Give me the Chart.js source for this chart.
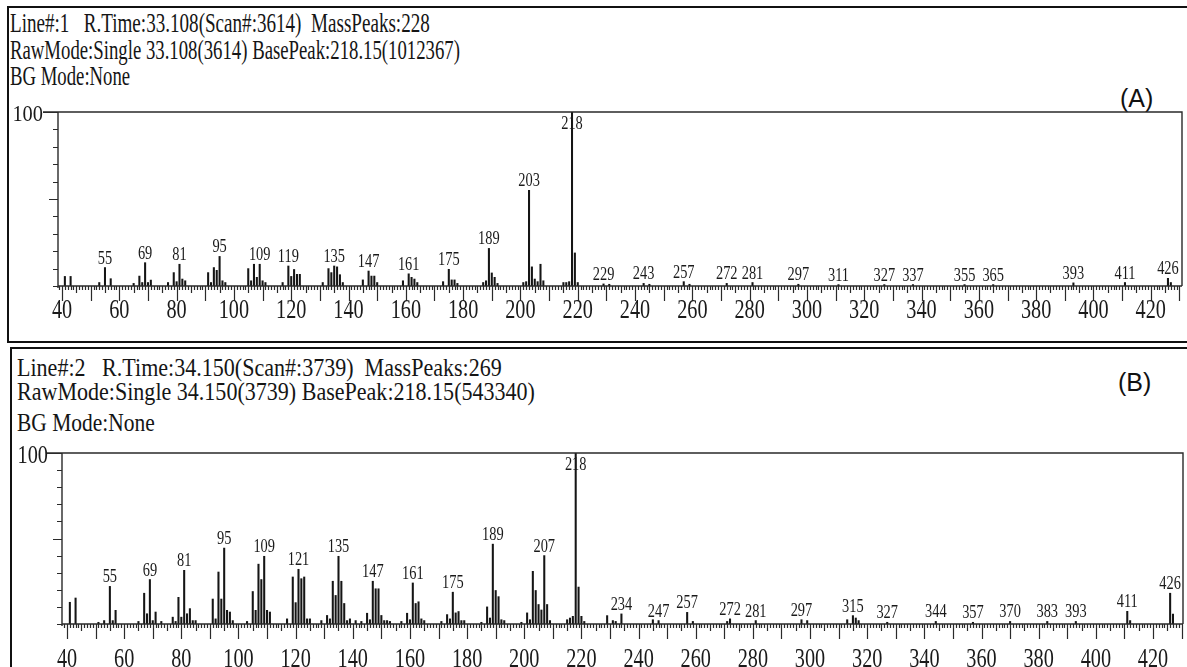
<!DOCTYPE html>
<html>
<head>
<meta charset="utf-8">
<title>Mass spectra (A) and (B)</title>
<script src="https://cdn.jsdelivr.net/npm/chart.js@4.4.1/dist/chart.umd.min.js"></script>
<style>
  body { margin: 0; width: 1187px; height: 667px; overflow: hidden; background: #fff; position: relative; }
  .panel { position: absolute; border: 2px solid #111; box-sizing: border-box; }
  #panelA { left: 7px; top: 6px; width: 1200px; height: 337px; }
  #panelB { left: 10px; top: 347px; width: 1200px; height: 340px; }
  .hdr { position: absolute; white-space: nowrap; font-family: "Liberation Serif", serif; color: #151515; transform-origin: 0 0; }
  .tag { position: absolute; font-family: "Liberation Sans", Arial, sans-serif; font-size: 25px; line-height: 25px; color: #111; }
  .wrap { position: absolute; left: 0; width: 1187px; }
</style>
</head>
<body>
<div class="panel" id="panelA"></div>
<div class="panel" id="panelB"></div>

<div class="hdr" data-w="420" style="left:10px; top:10px; font-size:27px; line-height:27px;">Line#:1&nbsp;&nbsp; R.Time:33.108(Scan#:3614)&nbsp; MassPeaks:228</div>
<div class="hdr" data-w="450" style="left:10px; top:37px; font-size:27px; line-height:27px;">RawMode:Single 33.108(3614) BasePeak:218.15(1012367)</div>
<div class="hdr" data-w="120" style="left:10px; top:63px; font-size:27px; line-height:27px;">BG Mode:None</div>
<div class="tag" style="left:1120px; top:86px;">(A)</div>

<div class="hdr" data-w="485" style="left:17px; top:355px; font-size:26px; line-height:26px;">Line#:2&nbsp;&nbsp; R.Time:34.150(Scan#:3739)&nbsp; MassPeaks:269</div>
<div class="hdr" data-w="518" style="left:17px; top:379px; font-size:26px; line-height:26px;">RawMode:Single 34.150(3739) BasePeak:218.15(543340)</div>
<div class="hdr" data-w="138" style="left:17px; top:410px; font-size:26px; line-height:26px;">BG Mode:None</div>
<div class="tag" style="left:1118px; top:370px;">(B)</div>

<div class="wrap" style="top:100px; height:230px;"><canvas id="specA" width="1187" height="230"></canvas></div>
<div class="wrap" style="top:440px; height:227px;"><canvas id="specB" width="1187" height="227"></canvas></div>

<script>
// spectrum A (Line#1), relative intensity in %
const mzA = [41, 43, 53, 55, 57, 65, 67, 68, 69, 70, 71, 77, 79, 80, 81, 82, 83,
  91, 92, 93, 94, 95, 96, 97, 105, 106, 107, 108, 109, 110, 111, 117, 119, 120, 121, 122, 123,
  131, 133, 134, 135, 136, 137, 138, 145, 147, 148, 149, 150, 159, 161, 162, 163, 164,
  173, 175, 176, 177, 178, 187, 188, 189, 190, 191, 192, 201, 202, 203, 204, 205, 206, 207, 208,
  215, 216, 217, 218, 219, 220, 229, 231, 243, 245, 257, 259, 272, 281, 297, 311, 327, 337,
  355, 365, 393, 411, 426, 427];
const intA = [5.5, 5.5, 2, 10.6, 4.2, 1.5, 5.7, 2, 13.4, 2, 3.4, 2, 7.7, 2.5, 12.5, 4, 3,
  7.7, 2, 10.6, 9, 17, 3, 2, 10, 3, 12.5, 5, 12.5, 3, 2, 2, 11.5, 5.5, 9.5, 6.7, 6.7,
  2, 10, 7.7, 11.5, 11, 6.5, 2, 3.5, 8.6, 5.7, 5.7, 2, 3, 7, 5, 4, 2,
  2.5, 9.6, 3.5, 3.5, 1.5, 2, 3, 21.6, 7.5, 5, 1.5, 2, 2.5, 55, 11, 4, 2.5, 12.5, 3,
  2, 2, 2.5, 100, 19, 2, 1.2, 1, 1.5, 1, 2.5, 1, 1.5, 2, 1, 0.8, 0.8, 0.8,
  0.8, 0.8, 1.8, 2, 4.4, 2];
const peakLabelsA = [55, 69, 81, 95, 109, 119, 135, 147, 161, 175, 189, 203, 218, 229, 243,
  257, 272, 281, 297, 311, 327, 337, 355, 365, 393, 411, 426];

// spectrum B (Line#2)
const mzB = [41, 43, 51, 53, 55, 56, 57, 65, 67, 68, 69, 70, 71, 73, 77, 78, 79, 80, 81, 82, 83, 84, 85,
  91, 92, 93, 94, 95, 96, 97, 98, 103, 105, 106, 107, 108, 109, 110, 111, 117, 119, 120, 121, 122, 123, 124, 125,
  129, 131, 132, 133, 134, 135, 136, 137, 138, 139, 141, 143, 145, 146, 147, 148, 149, 150, 151, 152, 153,
  157, 159, 160, 161, 162, 163, 164, 165, 171, 173, 174, 175, 176, 177, 178, 179, 185, 187, 188, 189, 190,
  191, 192, 193, 199, 201, 202, 203, 204, 205, 206, 207, 208, 209, 215, 216, 217, 218, 219, 220, 221,
  229, 231, 232, 234, 245, 247, 257, 259, 271, 272, 281, 297, 299, 313, 315, 316, 317, 327, 344, 357,
  370, 383, 393, 411, 412, 426, 427];
const intB = [12.7, 15.2, 1, 2, 22, 2, 8, 1.5, 18, 6, 26, 2, 7, 1.5, 4, 1.5, 15.6, 4, 31.4, 6, 9, 2, 2,
  14.6, 3, 30.4, 14.6, 44.4, 8, 7, 2, 1.5, 19, 8, 35, 26, 39.6, 8, 7, 3, 27.5, 12.5, 32, 26.5, 27.5, 3, 3,
  2, 5, 3, 25, 16.7, 39.6, 25, 12, 2, 3, 2, 1.5, 6.3, 2.5, 25, 20.6, 20.6, 5, 2, 2, 1.5,
  1.5, 6.3, 2.5, 24, 12, 13, 3, 2, 1.5, 5.5, 3, 18.6, 6.5, 7.3, 2, 2, 1, 10, 3.5, 46.7, 19.6,
  16, 2.5, 2, 1, 6.5, 2.5, 30.8, 19.6, 11.4, 8.2, 40, 11.4, 2, 2.5, 3.5, 4.5, 100, 21.6, 4.5, 1.5,
  4.9, 2, 1.5, 5.9, 2.5, 2, 6.8, 1.5, 1.5, 3, 2, 2.5, 2, 2.5, 4.9, 3.5, 2, 1, 1.5, 1,
  1.5, 1.5, 1.5, 7.4, 2, 18, 5.8];
const peakLabelsB = [55, 69, 81, 95, 109, 121, 135, 147, 161, 175, 189, 207, 218, 234, 247, 257,
  272, 281, 297, 315, 327, 344, 357, 370, 383, 393, 411, 426];

const xTickValues = [40, 60, 80, 100, 120, 140, 160, 180, 200, 220, 240, 260, 280, 300, 320, 340, 360, 380, 400, 420];
const yTickValues = [0, 10, 20, 30, 40, 50, 60, 70, 80, 90, 100];

const SERIF = '"Liberation Serif", "Times New Roman", serif';

// fit header lines to their measured width (the original print is condensed)
document.querySelectorAll('.hdr').forEach(el => {
  const w = parseFloat(el.dataset.w);
  el.style.transform = `scaleX(${w / el.offsetWidth})`;
});

function squeezedText(ctx, text, x, y, size, sx, align) {
  ctx.save();
  ctx.translate(x, y);
  ctx.scale(sx, 1);
  ctx.font = size + 'px ' + SERIF;
  ctx.textAlign = align;
  ctx.textBaseline = 'alphabetic';
  ctx.fillStyle = '#1a1a1a';
  ctx.fillText(text, 0, 0);
  ctx.restore();
}

// axes, ticks and peak labels in the instrument's style
const spectrumAxes = {
  id: 'spectrumAxes',
  afterDraw(chart, args, o) {
    const { ctx, chartArea: a, scales: { x, y } } = chart;
    ctx.save();
    ctx.strokeStyle = '#2a2a2a';
    ctx.lineWidth = 1.4;
    ctx.beginPath();
    ctx.moveTo(a.left, a.top); ctx.lineTo(a.left, a.bottom + 2);
    ctx.moveTo(a.left - 15, a.top); ctx.lineTo(a.right, a.top);
    ctx.lineTo(a.right, a.bottom);
    ctx.moveTo(a.left, a.bottom); ctx.lineTo(a.right, a.bottom);
    ctx.stroke();

    ctx.lineWidth = 1.2;
    ctx.beginPath();
    for (let v = Math.ceil(x.min); v <= Math.floor(x.max); v++) {
      const len = v % 10 === 0 ? 15 : (v % 5 === 0 ? 7 : 4);
      const px = Math.round(x.getPixelForValue(v)) + 0.5;
      ctx.moveTo(px, a.bottom); ctx.lineTo(px, a.bottom + len);
    }
    yTickValues.forEach(v => {
      const len = v === 100 ? 15 : (v === 50 ? 9 : 5);
      const py = Math.round(y.getPixelForValue(v)) + 0.5;
      ctx.moveTo(a.left - len, py); ctx.lineTo(a.left, py);
    });
    ctx.stroke();
    ctx.restore();

    xTickValues.forEach(v => {
      squeezedText(ctx, String(v), x.getPixelForValue(v), a.bottom + o.labelDrop, 27, 0.75, 'center');
    });
    squeezedText(ctx, '100', o.yLabelRight, o.yLabelBase, o.yLabelSize, o.yLabelSx, 'right');

    const meta = chart.getDatasetMeta(0);
    const mz = chart.data.datasets[0].data.map(d => d.x);
    o.peaks.forEach(p => {
      const el = meta.data[mz.indexOf(p)];
      if (!el) return;
      let base = el.y - 4;
      if (base - 13 < a.top) base = a.top + 17;
      squeezedText(ctx, String(p), el.x, base, 18, 0.8, 'center');
    });
  }
};

function makeSpectrum(id, mz, inten, peaks, lay) {
  return new Chart(document.getElementById(id), {
    type: 'bar',
    data: {
      datasets: [{
        data: mz.map((m, i) => ({ x: m, y: inten[i] })),
        backgroundColor: '#151515',
        borderWidth: 0,
        barThickness: 1.4
      }]
    },
    options: {
      responsive: false,
      animation: false,
      layout: { padding: { top: lay.padTop, right: lay.padRight, left: 0, bottom: 0 } },
      plugins: {
        legend: { display: false },
        tooltip: { enabled: false },
        spectrumAxes: { peaks, labelDrop: lay.labelDrop, yLabelRight: lay.yLabelRight,
          yLabelBase: lay.yLabelBase, yLabelSize: lay.yLabelSize, yLabelSx: lay.yLabelSx }
      },
      scales: {
        x: {
          type: 'linear', min: lay.xMin, max: lay.xMax, offset: false,
          grid: { display: false }, border: { display: false }, ticks: { display: false },
          afterFit: s => { s.height = lay.xHeight; }
        },
        y: {
          min: 0, max: 100,
          grid: { display: false }, border: { display: false }, ticks: { display: false },
          afterFit: s => { s.width = lay.yWidth; }
        }
      }
    },
    plugins: [spectrumAxes]
  });
}

function drawAll() {
  makeSpectrum('specA', mzA, intA, peakLabelsA, {
    xMin: 38.6, xMax: 430.9, padTop: 12, padRight: 5, yWidth: 58, xHeight: 44,
    labelDrop: 32, yLabelRight: 43, yLabelBase: 21, yLabelSize: 24, yLabelSx: 0.85
  });
  makeSpectrum('specB', mzB, intB, peakLabelsB, {
    xMin: 38.25, xMax: 430.5, padTop: 13, padRight: 4, yWidth: 62, xHeight: 43,
    labelDrop: 43, yLabelRight: 48, yLabelBase: 23, yLabelSize: 26, yLabelSx: 0.78
  });
}

document.fonts.load('27px "Liberation Serif"').then(drawAll, drawAll);
</script>
</body>
</html>
